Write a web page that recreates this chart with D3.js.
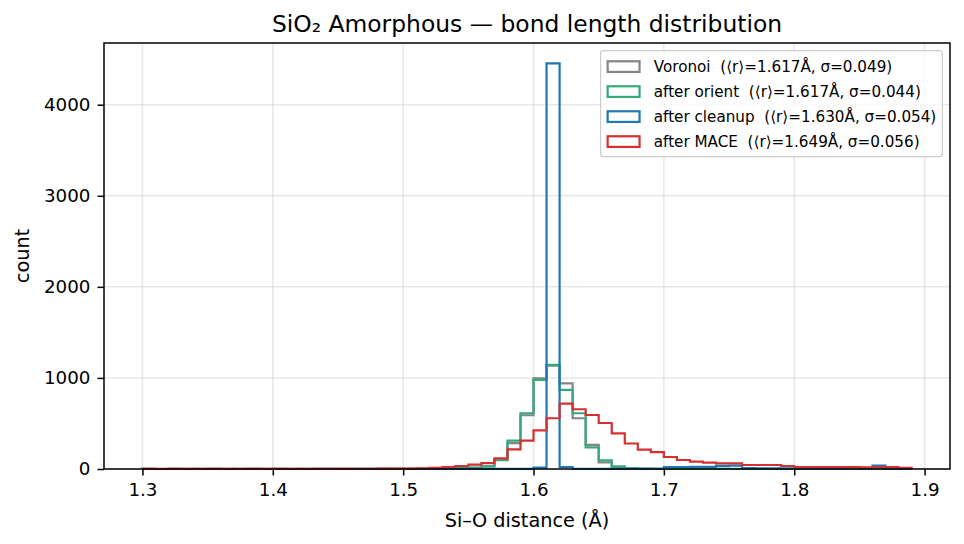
<!DOCTYPE html>
<head>
	<meta charset="utf-8" />
	<style>
		body {
			margin: 0;
			background-color: #fff;
			font-family: 'DejaVu Sans', sans-serif;
		}
	</style>
</head>

<body>
	<div id="chart-area"></div>

	<script src="https://cdnjs.cloudflare.com/ajax/libs/d3/7.8.5/d3.min.js"></script>

	<script>
		// histogram bins: 1.30 .. 1.89 in 0.01 steps (59 bins)
		const binStart = 1.3;
		const binWidth = 0.01;
		const binCount = 59;

		const xTicks = [1.3, 1.4, 1.5, 1.6, 1.7, 1.8, 1.9];
		const yTicks = [0, 1000, 2000, 3000, 4000];

		const seriesNames = [
			'Voronoi  (\u27e8r\u27e9=1.617Å, σ=0.049)',
			'after orient  (\u27e8r\u27e9=1.617Å, σ=0.044)',
			'after cleanup  (\u27e8r\u27e9=1.630Å, σ=0.054)',
			'after MACE  (\u27e8r\u27e9=1.649Å, σ=0.056)',
		];
		const seriesColors = ['#858585', '#36a97a', '#1f77b4', '#d62f2f'];

		const voronoiCounts = [
			1, 0, 1, 1, 0, 1, 1, 0, 1, 1, 1, 0, 1, 1, 1, 1, 2, 1, 2, 2,
			3, 3, 4, 6, 9, 15, 30, 100, 285, 590,
			995, 1135, 940, 557, 264, 72, 25, 8, 4, 2,
			2, 1, 1, 1, 1, 1, 0, 1, 0, 0,
			0, 0, 0, 0, 0, 0, 0, 0, 0,
		];
		const orientCounts = [
			1, 0, 1, 0, 1, 1, 0, 1, 1, 0, 1, 1, 0, 1, 1, 1, 1, 2, 1, 2,
			2, 3, 4, 5, 9, 14, 28, 96, 311, 612,
			978, 1143, 868, 612, 238, 95, 26, 7, 3, 2,
			1, 1, 1, 0, 1, 0, 0, 0, 0, 0,
			0, 0, 0, 0, 0, 0, 0, 0, 0,
		];
		const cleanupCounts = [
			0, 0, 0, 0, 0, 0, 0, 0, 0, 0, 0, 0, 0, 0, 0, 0, 0, 0, 0, 0,
			0, 0, 0, 0, 1, 1, 1, 1, 2, 2,
			15, 4455, 22, 3, 2, 2, 1, 1, 1, 2,
			22, 22, 24, 24, 34, 36, 10, 8, 8, 6,
			5, 4, 5, 5, 22, 6, 38, 5, 1,
		];
		const maceCounts = [
			2, 1, 2, 1, 1, 2, 2, 1, 2, 1, 2, 2, 1, 2, 3, 2, 3, 3, 4, 4,
			5, 8, 14, 22, 33, 48, 65, 117, 216, 311,
			425, 557, 718, 656, 593, 505, 392, 280, 212, 186,
			132, 99, 80, 70, 62, 62, 44, 44, 44, 33,
			22, 22, 20, 20, 20, 18, 22, 20, 14,
		];

		const allCounts = [voronoiCounts, orientCounts, cleanupCounts, maceCounts];
		const edges = d3.range(binCount + 1).map(i => binStart + i * binWidth);

		const W = 964, H = 544;
		const margins = { top: 43, right: 14, bottom: 75, left: 104 };
		const width = W - margins.left - margins.right;
		const height = H - margins.top - margins.bottom;

		const lo = edges[0], hi = edges[binCount];
		const pad = (hi - lo) * 0.05;
		const x = d3.scaleLinear().domain([lo - pad, hi + pad]).range([0, width]);
		const yMax = d3.max(allCounts.flat()) * 1.05;
		const y = d3.scaleLinear().domain([0, yMax]).range([height, 0]);

		const svg = d3.select('#chart-area')
			.append('svg')
			.attr('width', W)
			.attr('height', H)
			.style('font-family', "'DejaVu Sans', sans-serif");

		const g = svg.append('g')
			.attr('transform', `translate(${margins.left},${margins.top})`);

		// grid
		g.append('g')
			.selectAll('line')
			.data(xTicks)
			.join('line')
			.attr('x1', d => x(d)).attr('x2', d => x(d))
			.attr('y1', 0).attr('y2', height)
			.attr('stroke', '#b0b0b0').attr('stroke-opacity', 0.3)
			.attr('stroke-width', 1.5);
		g.append('g')
			.selectAll('line')
			.data(yTicks)
			.join('line')
			.attr('x1', 0).attr('x2', width)
			.attr('y1', d => y(d)).attr('y2', d => y(d))
			.attr('stroke', '#b0b0b0').attr('stroke-opacity', 0.3)
			.attr('stroke-width', 1.5);

		// step outlines
		function stepPoints(counts) {
			const pts = [[edges[0], 0]];
			counts.forEach((c, i) => {
				pts.push([edges[i], c]);
				pts.push([edges[i + 1], c]);
			});
			pts.push([edges[binCount], 0]);
			return pts;
		}
		const line = d3.line().x(d => x(d[0])).y(d => y(d[1]));

		g.append('g')
			.selectAll('path')
			.data(allCounts)
			.join('path')
			.attr('d', d => line(stepPoints(d)))
			.attr('fill', 'none')
			.attr('stroke', (d, i) => seriesColors[i])
			.attr('stroke-width', 2.2)
			.attr('stroke-linejoin', 'miter');

		// axes
		const xAxis = g.append('g')
			.attr('transform', `translate(0,${height})`)
			.call(d3.axisBottom(x).tickValues(xTicks).tickFormat(d3.format('.1f'))
				.tickSize(6.5).tickPadding(8));
		const yAxis = g.append('g')
			.call(d3.axisLeft(y).tickValues(yTicks).tickFormat(d3.format('d'))
				.tickSize(6.5).tickPadding(7));

		[xAxis, yAxis].forEach(a => {
			a.select('.domain').remove();
			a.selectAll('line').attr('stroke', '#000').attr('stroke-width', 1.5);
			a.selectAll('text')
				.attr('fill', '#000')
				.style('font-size', '18.3px')
				.style('font-family', "'DejaVu Sans', sans-serif");
		});

		g.append('rect')
			.attr('width', width).attr('height', height)
			.attr('fill', 'none').attr('stroke', '#000').attr('stroke-width', 1.5);

		// labels
		svg.append('text')
			.attr('x', margins.left + width / 2).attr('y', 32)
			.attr('text-anchor', 'middle')
			.style('font-size', '23.4px')
			.text('SiO\u2082 Amorphous — bond length distribution');
		svg.append('text')
			.attr('x', margins.left + width / 2).attr('y', 526.5)
			.attr('text-anchor', 'middle')
			.style('font-size', '19.3px')
			.text('Si–O distance (Å)');
		svg.append('text')
			.attr('transform', `translate(28.5,${margins.top + height / 2}) rotate(-90)`)
			.attr('text-anchor', 'middle')
			.style('font-size', '19.3px')
			.text('count');

		// legend
		const fs = 15.2;
		const rowGap = 25;
		const textX = fs * 3.1;
		const legend = g.append('g');
		const items = legend.selectAll('g')
			.data(seriesNames)
			.join('g');
		items.append('text')
			.attr('x', textX).attr('y', 0)
			.attr('dy', '0.36em')
			.style('font-size', fs + 'px')
			.style('white-space', 'pre')
			.attr('xml:space', 'preserve')
			.text(d => d);
		const textW = d3.max(items.selectAll('text').nodes(), n => n.getComputedTextLength());
		const boxW = fs * 0.4 * 2 + textX + textW;
		const boxH = rowGap * 3 + 31;
		const bx = width - fs * 0.5 - boxW;
		const by = fs * 0.5;
		legend.insert('rect', ':first-child')
			.attr('x', bx).attr('y', by)
			.attr('width', boxW).attr('height', boxH)
			.attr('rx', 3)
			.attr('fill', '#fff').attr('fill-opacity', 0.8)
			.attr('stroke', '#cccccc').attr('stroke-width', 1.2);
		items.attr('transform', (d, i) =>
			`translate(${bx + fs * 0.4},${by + 16 + i * rowGap})`);
		items.append('rect')
			.attr('x', 1).attr('y', -fs * 0.35)
			.attr('width', fs * 2.1).attr('height', fs * 0.7)
			.attr('fill', 'none')
			.attr('stroke', (d, i) => seriesColors[i])
			.attr('stroke-width', 2.2);
	</script>
</body>
